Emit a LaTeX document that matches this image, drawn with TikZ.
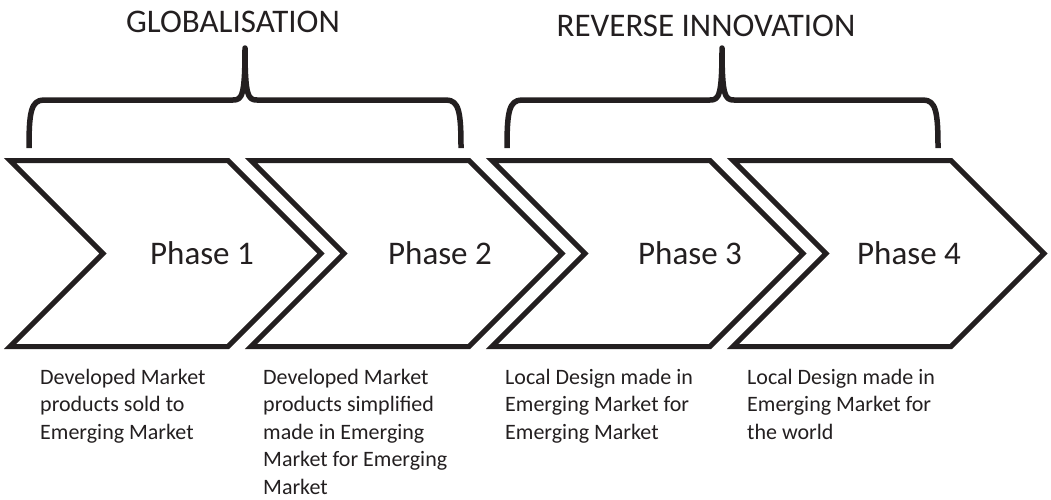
\documentclass[tikz,border=0pt]{standalone}
\usepackage{fontspec}
\setmainfont{Carlito}
\definecolor{ink}{RGB}{35,31,32}
% first-line baseline for the stacked notes
\newcommand{\notelines}[1]{\begin{tabular}[t]{@{}l@{}}#1\end{tabular}}
\tikzset{
  chevron/.style={draw=ink, line width=5pt, miter limit=10},
  bracket/.style={draw=ink, line width=5.5pt, line join=round},
  phase/.style={anchor=base, text=ink, font=\fontsize{33}{40}\selectfont},
  heading/.style={anchor=base, text=ink, font=\fontsize{33}{40}\selectfont},
  note/.style={anchor=base west, inner sep=0pt, text=ink, font=\fontsize{22}{27.5}\selectfont}
}
\begin{document}
\begin{tikzpicture}[x=1pt, y=-1pt]
  \useasboundingbox (0,0) rectangle (1051,499);

  % the four arrows
  \foreach \x in {10,251,492,733}
    \draw[chevron] (\x,160.5) -- ++(218,0) -- ++(93,93) -- ++(-93,93)
                   -- ++(-218,0) -- ++(93,-93) -- cycle;

  \node[phase] (ph1) at (202,264) {Phase 1};
  \node[phase] (ph2) at (440,264) {Phase 2};
  \node[phase] (ph3) at (690,264) {Phase 3};
  \node[phase] (ph4) at (909,264) {Phase 4};

  % curly brackets over the pairs
  \draw[bracket] (29,148) .. controls (29,112) and (31,100) .. (44,100) -- (233,100)
                 .. controls (242,100) and (245,96) .. (245,48)
                 .. controls (245,96) and (248,100) .. (257,100) -- (446,100)
                 .. controls (459,100) and (461,112) .. (461,148);
  \draw[bracket] (507,148) .. controls (507,112) and (509,100) .. (522,100) -- (710,100)
                 .. controls (719,100) and (722,96) .. (722,48)
                 .. controls (722,96) and (725,100) .. (734,100) -- (923,100)
                 .. controls (936,100) and (938,112) .. (938,148);

  \node[heading] (glob) at (233,32) {GLOBALISATION};
  \node[heading] (revinn) at (706,36) {REVERSE INNOVATION};

  % what each phase means
  \node[note] (txt1) at (40,384) {\notelines{Developed Market\\products sold to\\Emerging Market}};
  \node[note] (txt2) at (263,384) {\notelines{Developed Market\\products simplified\\made in Emerging\\Market for Emerging\\Market}};
  \node[note] (txt3) at (505,384) {\notelines{Local Design made in\\Emerging Market for\\Emerging Market}};
  \node[note] (txt4) at (747,384) {\notelines{Local Design made in\\Emerging Market for\\the world}};
\end{tikzpicture}
\end{document}
